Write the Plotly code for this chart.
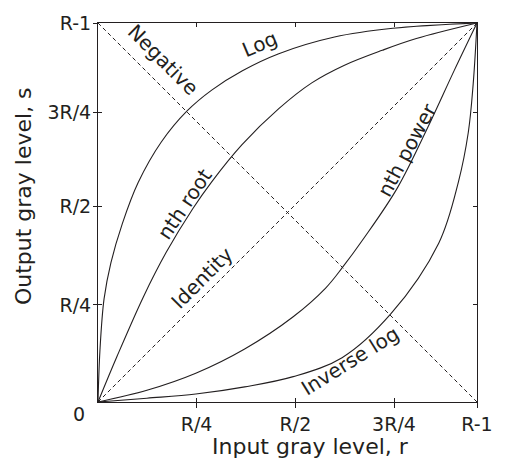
import plotly.graph_objects as go

# Axis tick positions (fraction of the full gray range) and their labels
x_tick_pos = [0.26, 0.521, 0.781, 1.0]
x_tick_text = ["R/4", "R/2", "3R/4", "R-1"]
y_tick_pos = [0.256, 0.517, 0.764, 1.0]
y_tick_text = ["R/4", "R/2", "3R/4", "R-1"]

# Gray-level transformation curves: input level r -> output level s
log_r = [0.0, 0.005, 0.016, 0.034, 0.064, 0.106, 0.167, 0.235, 0.300, 0.381, 0.477, 0.624, 0.778, 1.0]
log_s = [0.0, 0.134, 0.272, 0.367, 0.470, 0.579, 0.686, 0.768, 0.823, 0.874, 0.919, 0.963, 0.986, 1.0]

root_r = [0.0, 0.050, 0.120, 0.180, 0.250, 0.300, 0.380, 0.477, 0.564, 0.649, 0.750, 0.840, 1.0]
root_s = [0.0, 0.120, 0.278, 0.395, 0.510, 0.581, 0.679, 0.774, 0.842, 0.888, 0.928, 0.959, 1.0]

power_r = [0.0, 0.129, 0.258, 0.387, 0.515, 0.600, 0.645, 0.700, 0.790, 0.875, 0.940, 1.0]
power_s = [0.0, 0.031, 0.076, 0.140, 0.225, 0.300, 0.355, 0.430, 0.565, 0.735, 0.875, 1.0]

invlog_r = [0.0, 0.129, 0.258, 0.387, 0.515, 0.644, 0.773, 0.899, 0.951, 0.977, 0.990, 1.0]
invlog_s = [0.0, 0.010, 0.021, 0.040, 0.067, 0.117, 0.233, 0.419, 0.581, 0.711, 0.840, 1.0]

identity_r = [0.0, 1.0]
identity_s = [0.0, 1.0]
negative_r = [0.0, 1.0]
negative_s = [1.0, 0.0]

INK = "#231f20"
FONT = "DejaVu Sans"

fig = go.Figure()

for r, s in [(log_r, log_s), (root_r, root_s), (power_r, power_s), (invlog_r, invlog_s)]:
    fig.add_trace(go.Scatter(x=r, y=s, mode="lines", line=dict(color=INK, width=1.1, shape="spline"),
                             hoverinfo="skip", showlegend=False))

for r, s in [(identity_r, identity_s), (negative_r, negative_s)]:
    fig.add_trace(go.Scatter(x=r, y=s, mode="lines", line=dict(color=INK, width=1, dash="4px,3px"),
                             hoverinfo="skip", showlegend=False))

# companion axes carrying the inward half of each tick mark
fig.add_trace(go.Scatter(x=[None], y=[None], xaxis="x2", yaxis="y2", showlegend=False, hoverinfo="skip"))

# curve names written along each curve: (text, r, s, angle)
curve_labels = [
    ("Negative", 0.172, 0.902, 45),
    ("Log", 0.428, 0.944, -23),
    ("nth root", 0.229, 0.522, -56),
    ("Identity", 0.275, 0.326, -45),
    ("nth power", 0.815, 0.665, -62),
    ("Inverse log", 0.665, 0.108, -32),
]
for text, x, y, ang in curve_labels:
    fig.add_annotation(x=x, y=y, xref="x", yref="y", text=text, textangle=ang, showarrow=False,
                       xanchor="center", yanchor="middle",
                       font=dict(family=FONT, size=20, color=INK))

fig.add_annotation(x=-0.049, y=-0.031, xref="paper", yref="paper", text="0", showarrow=False,
                   xanchor="center", yanchor="middle",
                   font=dict(family=FONT, size=19, color=INK))
fig.add_annotation(x=(316 - 98) / 388, y=(402 - 447) / 387, xref="paper", yref="paper",
                   text="Input gray level, r", showarrow=False, xanchor="center", yanchor="middle",
                   font=dict(family=FONT, size=22, color=INK))
fig.add_annotation(x=(22 - 98) / 388, y=(402 - 192) / 387, xref="paper", yref="paper",
                   text="Output gray level, s", textangle=-90, showarrow=False,
                   xanchor="center", yanchor="middle",
                   font=dict(family=FONT, size=22, color=INK))

axis_common = dict(range=[0, 1], showgrid=False, zeroline=False, showline=True, mirror=True,
                   linecolor=INK, linewidth=1, tickcolor=INK, tickwidth=1)

fig.update_layout(
    width=505, height=465,
    margin=dict(l=98, r=19, t=15, b=63),
    paper_bgcolor="white", plot_bgcolor="white",
    showlegend=False,
    xaxis=dict(**axis_common, tickmode="array", tickvals=x_tick_pos, ticktext=x_tick_text,
               ticks="outside", ticklen=5,
               tickfont=dict(family=FONT, size=19, color=INK)),
    yaxis=dict(**axis_common, tickmode="array", tickvals=y_tick_pos, ticktext=y_tick_text,
               ticks="outside", ticklen=4, ticklabelstandoff=-2,
               tickfont=dict(family=FONT, size=19, color=INK)),
    xaxis2=dict(range=[0, 1], overlaying="x", showgrid=False, zeroline=False, showline=False,
                mirror="ticks", tickmode="array", tickvals=x_tick_pos, ticks="inside", ticklen=4,
                tickcolor=INK, showticklabels=False),
    yaxis2=dict(range=[0, 1], overlaying="y", showgrid=False, zeroline=False, showline=False,
                mirror="ticks", tickmode="array", tickvals=y_tick_pos, ticks="inside", ticklen=4,
                tickcolor=INK, showticklabels=False),
)

fig.write_html("out.html")
